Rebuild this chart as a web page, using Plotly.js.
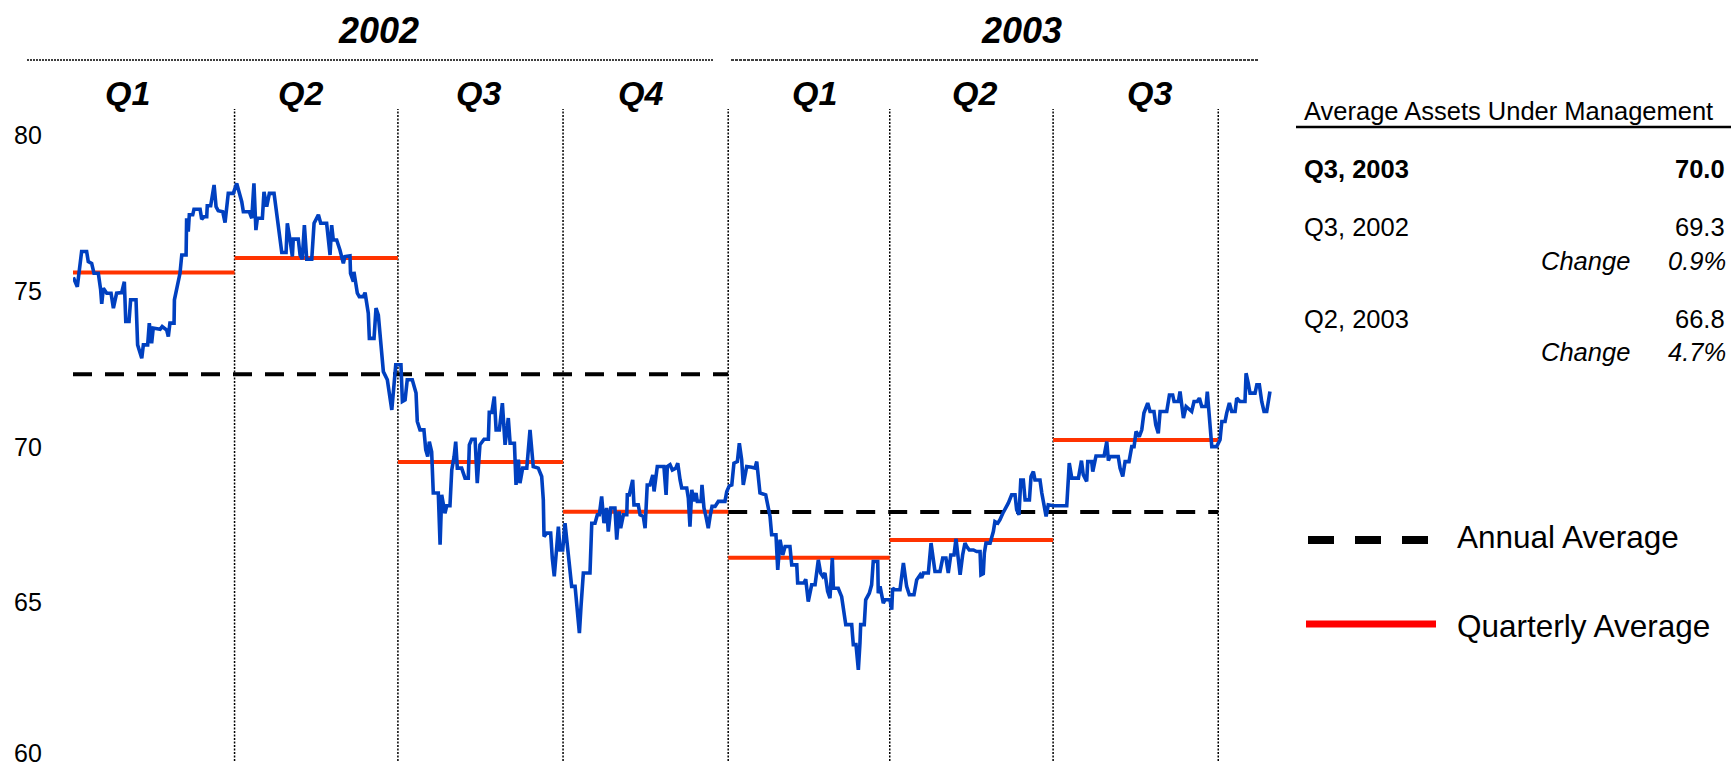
<!DOCTYPE html>
<html>
<head>
<meta charset="utf-8">
<script src="https://cdn.plot.ly/plotly-3.0.1.min.js"></script>
<style>html,body{margin:0;padding:0;background:#fff;}#chart{width:1731px;height:769px;}</style>
</head>
<body>
<div id="chart"></div>
<script>
// ---------------- DATA ----------------
// Days since 1 Jan 2002
const dayOffset = [
0.2,2.4,4.8,7.6,8.5,10.4,11.7,14.1,15.4,16.0,16.9,18.8,21.2,22.5,24.3,27.1,28.6,29.4,31.2,32.1,35.1,36.0,38.3,39.2,41.6,42.5,43.8,44.7,48.5,49.7,52.2,53.1,54.0,56.3,56.5,57.8,59.6,60.6,63.0,63.3,64.2,64.8,66.7,67.4,70.8,71.7,73.0,74.5,74.8,76.7,78.6,79.7,80.9,83.4,84.7,86.5,89.3,
91.2,94.0,94.9,98.2,99.6,100.8,101.9,102.7,105.5,106.4,107.9,109.4,112.0,113.8,114.4,116.3,118.7,119.4,120.9,122.2,122.7,125.5,126.5,127.7,128.9,130.2,133.0,134.3,136.7,138.0,141.3,142.2,143.2,144.1,145.0,146.9,148.7,150.6,151.5,154.3,154.6,156.2,156.5,158.4,159.5,161.7,162.7,164.5,165.1,167.7,168.8,170.1,172.9,175.1,177.6,179.8,
182.7,183.5,185.0,186.2,189.0,191.1,191.8,193.3,195.5,196.5,197.6,198.5,199.8,200.7,203.5,204.5,205.4,207.2,208.2,210.0,211.0,212.3,213.2,214.1,216.5,218.4,220.2,220.8,222.1,224.0,225.2,226.7,229.0,231.4,231.9,233.3,234.7,235.7,237.5,239.2,240.7,242.5,243.5,245.9,246.8,248.1,249.0,250.5,252.8,254.6,256.4,259.2,261.1,262.0,262.4,263.9,266.1,267.0,268.1,269.5,270.4,271.3,272.8,
274.1,275.9,277.8,279.7,280.6,282.1,283.0,284.3,288.0,289.0,290.8,292.1,293.2,294.5,295.8,297.3,298.2,299.6,301.9,302.9,304.2,305.1,306.6,308.5,308.8,309.9,311.8,312.5,314.9,315.9,317.7,318.7,319.9,321.4,323.0,323.7,325.5,329.2,330.4,331.1,332.6,333.9,335.8,336.9,338.2,339.1,341.9,342.8,343.7,344.7,346.0,347.1,347.8,349.9,350.4,351.5,352.6,353.9,354.9,356.0,357.7,359.5,363.2,364.2,
365.6,367.0,368.2,370.1,371.2,372.5,373.4,375.3,378.1,379.9,380.9,381.8,382.7,385.9,387.3,388.3,389.2,391.6,392.6,393.9,395.4,396.7,399.4,400.4,403.2,403.7,407.2,408.2,409.6,411.5,413.4,415.2,416.5,417.7,418.9,420.4,421.7,423.0,423.6,426.3,428.2,429.5,430.5,433.8,434.7,436.2,437.5,438.4,438.8,440.8,441.6,443.6,444.9,445.8,448.3,448.6,449.6,451.4,452.4,455.1,
456.1,456.6,457.9,460.7,462.6,464.4,465.9,468.5,470.0,471.9,472.8,473.7,476.5,478.0,479.3,480.2,483.0,484.5,486.3,487.6,489.0,490.8,491.9,494.2,495.6,496.9,497.9,499.3,501.6,503.4,505.3,505.8,507.1,507.7,508.6,510.9,512.7,513.6,515.2,516.4,518.0,519.8,521.1,522.9,524.8,525.7,527.0,528.0,529.4,530.4,532.8,533.7,535.0,535.9,538.7,539.7,541.0,542.1,543.3,546.1,
553.6,555.0,556.4,560.1,561.8,562.8,564.7,565.3,567.5,568.1,569.9,574.4,575.9,576.8,577.7,582.3,583.3,584.8,586.1,588.3,589.8,591.1,592.2,594.0,595.4,596.6,598.7,600.0,602.2,603.2,604.6,605.6,609.3,610.8,612.6,613.4,615.8,616.7,618.6,620.1,623.2,624.5,626.3,627.5,628.8,631.2,631.9,633.4,634.4,637.1,
639.0,640.0,641.8,642.7,644.2,645.5,647.4,648.3,650.1,652.9,653.5,654.7,655.7,658.5,659.5,660.9,662.2,663.5,665.0,666.8
];
// Assets under management
const aum = [
75.44,75.14,76.27,76.27,75.95,75.89,75.57,75.57,75.04,74.59,75.09,74.93,74.93,74.45,74.93,74.95,75.30,74.02,74.02,74.72,74.72,73.27,72.84,73.27,73.27,73.97,73.32,73.81,73.77,73.86,73.75,73.54,73.97,73.97,74.72,75.14,75.57,76.16,76.16,77.34,76.91,77.45,77.45,77.63,77.63,77.31,77.39,77.39,77.74,77.74,78.41,77.71,77.58,77.55,77.20,78.14,78.14,
78.46,77.87,77.55,77.55,77.34,78.46,76.96,77.34,77.34,78.19,77.71,78.14,78.14,77.39,77.02,76.24,76.24,77.18,76.64,76.11,76.67,76.67,76.16,76.02,77.12,76.02,76.02,77.18,77.45,77.18,77.18,76.54,76.16,77.12,76.64,76.64,76.32,75.89,76.11,76.13,75.57,75.30,75.62,74.93,74.82,74.82,74.95,74.29,73.48,73.48,74.45,74.23,72.41,72.15,71.18,72.63,
72.63,71.45,71.50,72.15,72.15,71.72,70.81,70.54,70.54,69.90,69.68,70.16,69.84,68.51,68.51,66.85,68.45,67.86,68.10,68.10,69.25,69.68,70.16,69.31,69.31,68.99,68.99,70.06,70.24,70.24,68.83,70.06,70.24,70.24,71.10,71.10,71.61,70.54,70.54,71.40,70.06,70.92,70.11,70.11,68.77,69.58,68.83,69.31,69.31,70.54,69.36,69.31,69.04,68.29,67.11,67.22,67.22,66.42,65.83,66.79,67.43,66.68,66.68,
67.54,66.58,65.51,65.51,64.86,64.01,64.86,65.94,65.94,67.54,67.54,67.81,67.81,68.40,67.54,68.03,67.27,68.03,68.03,67.01,67.92,67.38,67.81,67.81,68.45,68.45,68.93,68.13,68.13,67.81,67.76,67.38,68.77,68.77,69.09,68.56,69.36,69.36,68.45,69.36,69.42,69.25,69.31,69.47,68.93,68.67,68.67,68.34,67.43,68.61,68.24,68.51,68.24,68.24,68.77,68.03,67.76,67.38,67.76,68.08,68.08,68.24,68.24,68.56,
68.74,68.77,69.47,69.52,70.11,69.58,68.77,69.36,69.34,69.31,69.52,68.93,68.51,68.45,68.03,67.76,67.17,67.17,66.04,67.01,66.52,66.79,66.79,66.20,66.20,65.62,65.62,65.74,65.02,65.56,65.56,66.36,65.94,65.83,65.94,65.35,65.13,66.42,65.45,65.45,65.18,64.60,64.28,64.28,63.64,63.64,62.83,63.69,64.28,64.28,65.08,65.29,65.56,66.31,66.31,65.29,65.51,64.97,65.08,65.08,
64.76,65.45,65.40,65.40,66.26,65.51,65.24,65.24,65.72,65.88,65.78,65.94,65.94,66.90,66.42,65.99,65.99,66.42,66.42,65.94,66.52,66.52,67.04,65.88,66.52,66.90,66.79,66.68,66.68,66.63,66.63,65.88,65.92,66.58,66.90,66.90,67.27,67.59,67.54,67.65,67.86,68.03,68.19,68.45,68.45,67.97,67.81,68.93,68.93,68.29,68.29,69.04,69.20,68.93,68.93,68.51,68.08,67.76,68.13,68.10,
68.10,69.47,68.99,68.99,69.55,69.10,68.88,69.52,69.52,69.20,69.70,69.70,70.16,69.55,69.68,69.68,69.31,69.04,69.52,69.52,70.00,70.00,70.49,70.32,70.54,71.08,71.40,71.13,71.13,70.70,70.43,71.13,71.13,71.66,71.66,71.45,71.45,71.77,70.92,71.29,71.13,71.45,71.45,71.56,71.29,71.29,71.77,70.70,70.00,70.00,
70.22,70.81,70.81,71.08,71.40,71.13,71.13,71.56,71.45,71.45,72.36,72.04,71.72,71.72,71.99,71.99,71.45,71.13,71.13,71.77
];
const quarterStarts = ['2002-01-01','2002-04-01','2002-07-01','2002-10-01','2003-01-01','2003-04-01','2003-07-01','2003-10-01'];
const quarterLabels = ['Q1','Q2','Q3','Q4','Q1','Q2','Q3'];
const quarterlyAverage = [75.60, 76.06, 69.51, 67.91, 66.43, 67.00, 70.21];
const yearLabels = ['2002','2003'];
const yearStarts = ['2002-01-01','2003-01-01'];
const yearEnds = ['2003-01-01','2003-10-01'];
const annualAverage = [72.33, 67.90];
const yTicks = [60, 65, 70, 75, 80];
const panelTitle = 'Average Assets Under Management';
const panelRows = [
  {label:'Q3, 2003', value:'70.0', bold:true},
  {label:'Q3, 2002', value:'69.3', change:'0.9%'},
  {label:'Q2, 2003', value:'66.8', change:'4.7%'}
];
const changeLabel = 'Change';
const legendLabels = ['Annual Average', 'Quarterly Average'];

// ---------------- LAYOUT HELPERS ----------------
const W = 1731, H = 769, ML = 73, MR = 451, MT = 109, MB = 0;
const PW = W - ML - MR, PH = H - MT - MB;
const Y_TOP = 80.85, PX_PER_UNIT = 31.12;
const Y_BOTTOM = Y_TOP - PH / PX_PER_UNIT;
const px = x => (x - ML) / PW;
const py = y => (H - MB - y) / PH;
const FONT = 'Liberation Sans, Arial, Helvetica, sans-serif';
const DAY = 86400000, T0 = Date.UTC(2002, 0, 1);

// ---------------- TRACES ----------------
const xs = dayOffset.map(d => T0 + d * DAY);

const qx = [], qy = [];
quarterlyAverage.forEach((v, i) => { qx.push(quarterStarts[i], quarterStarts[i+1], null); qy.push(v, v, null); });
const ax = [], ay = [];
annualAverage.forEach((v, i) => { ax.push(yearStarts[i], yearEnds[i], null); ay.push(v, v, null); });

const traces = [
  {x: ax, y: ay, type:'scatter', mode:'lines', name: legendLabels[0],
   line:{color:'#000000', width:4, dash:'19px,13px'}, hoverinfo:'skip', connectgaps:false},
  {x: qx, y: qy, type:'scatter', mode:'lines', name: legendLabels[1],
   line:{color:'#FF3300', width:4}, hoverinfo:'skip', connectgaps:false},
  {x: xs, y: aum, type:'scatter', mode:'lines', name:'AUM',
   line:{color:'#0040C0', width:3.6, shape:'linear'}}
];

// ---------------- SHAPES & ANNOTATIONS ----------------
const shapes = [];
quarterStarts.slice(1).forEach(q => shapes.push({
  type:'line', xref:'x', yref:'y', x0:q, x1:q, y0:59.9, y1:Y_TOP, layer:'below',
  line:{color:'#000', width:1.5, dash:'2px,1.5px'}
}));
// year header rules
shapes.push({type:'line', xref:'paper', yref:'paper', x0:px(27), x1:px(714), y0:py(60), y1:py(60),
  line:{color:'#000', width:1.5, dash:'2px,1px'}});
shapes.push({type:'line', xref:'paper', yref:'paper', x0:px(731), x1:px(1258), y0:py(60), y1:py(60),
  line:{color:'#000', width:1.6, dash:'3px,1px'}});
// panel underline
shapes.push({type:'line', xref:'paper', yref:'paper', x0:px(1296), x1:px(1731), y0:py(127), y1:py(127),
  line:{color:'#000', width:2.5}});
// legend samples
shapes.push({type:'line', xref:'paper', yref:'paper', x0:px(1308), x1:px(1428), y0:py(540), y1:py(540),
  line:{color:'#000', width:8, dash:'26px,21px'}});
shapes.push({type:'line', xref:'paper', yref:'paper', x0:px(1306), x1:px(1436), y0:py(624), y1:py(624),
  line:{color:'#FF0000', width:7}});

const ann = [];
// y-axis value labels, placed on the y scale (lowest one nudged up to stay inside the page)
yTicks.forEach((v, i) => ann.push({text:String(v), xref:'paper', yref:'y', x:px(44), y:v,
  xanchor:'right', yanchor:'middle', yshift: i === 0 ? 5 : 0, showarrow:false,
  font:{family:FONT, size:25, color:'#000'}}));

const yearX = [378, 1021];
yearLabels.forEach((t, i) => ann.push({text:'<b><i>'+t+'</i></b>', xref:'paper', yref:'paper',
  x:px(yearX[i]), y:py(30), xanchor:'center', yanchor:'middle', showarrow:false,
  font:{family:FONT, size:36, color:'#000'}}));
const qX = [127, 300, 478, 640, 814, 974, 1149];
quarterLabels.forEach((t, i) => ann.push({text:'<b><i>'+t+'</i></b>', xref:'paper', yref:'paper',
  x:px(qX[i]), y:py(93), xanchor:'center', yanchor:'middle', showarrow:false,
  font:{family:FONT, size:34, color:'#000'}}));

const pf = {family:FONT, size:25.5, color:'#000'};
ann.push({text:panelTitle, xref:'paper', yref:'paper', x:px(1302), y:py(111), xanchor:'left', yanchor:'middle', showarrow:false, font:pf});
const rowY = [169, 227, 319];
const chgY = [null, 261, 352];
panelRows.forEach((r, i) => {
  const b = s => r.bold ? '<b>'+s+'</b>' : s;
  ann.push({text:b(r.label), xref:'paper', yref:'paper', x:px(1302), y:py(rowY[i]), xanchor:'left', yanchor:'middle', showarrow:false, font:pf});
  ann.push({text:b(r.value), xref:'paper', yref:'paper', x:px(1727), y:py(rowY[i]), xanchor:'right', yanchor:'middle', showarrow:false, font:pf});
  if (r.change) {
    ann.push({text:'<i>'+changeLabel+'</i>', xref:'paper', yref:'paper', x:px(1632), y:py(chgY[i]), xanchor:'right', yanchor:'middle', showarrow:false, font:pf});
    ann.push({text:'<i>'+r.change+'</i>', xref:'paper', yref:'paper', x:px(1728), y:py(chgY[i]), xanchor:'right', yanchor:'middle', showarrow:false, font:pf});
  }
});
const legY = [537, 626];
legendLabels.forEach((t, i) => ann.push({text:t, xref:'paper', yref:'paper', x:px(1455), y:py(legY[i]),
  xanchor:'left', yanchor:'middle', showarrow:false, font:{family:FONT, size:31.5, color:'#000'}}));

const layout = {
  width:W, height:H,
  margin:{l:ML, r:MR, t:MT, b:MB, pad:0},
  paper_bgcolor:'#fff', plot_bgcolor:'#fff',
  showlegend:false,
  xaxis:{type:'date', range:[T0, T0 + 672.4*DAY], visible:false, fixedrange:true},
  yaxis:{range:[Y_BOTTOM, Y_TOP], tickmode:'array', tickvals:yTicks, showticklabels:false,
    ticks:'', showgrid:false, zeroline:false, showline:false, fixedrange:true},
  shapes:shapes,
  annotations:ann,
  font:{family:FONT}
};

Plotly.newPlot('chart', traces, layout, {displayModeBar:false, staticPlot:true});
</script>
</body>
</html>
